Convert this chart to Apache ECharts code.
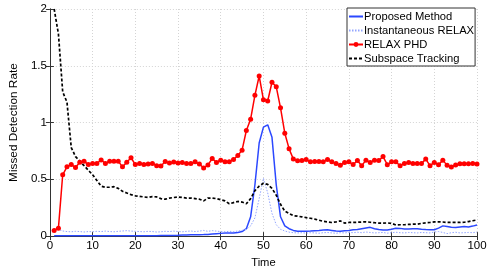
<!DOCTYPE html>
<html>
<head>
<meta charset="utf-8">
<script src="https://cdn.jsdelivr.net/npm/echarts@6/dist/echarts.min.js"></script>
<style>
html,body{margin:0;padding:0;background:#fff;}
#chart{width:491px;height:273px;}
</style>
</head>
<body>
<div id="chart"></div>
<script>
var seriesNames = ['Proposed Method', 'Instantaneous RELAX', 'RELAX PHD', 'Subspace Tracking'];
var xTicks = [0, 10, 20, 30, 40, 50, 60, 70, 80, 90, 100];
var yTicks = [0, 0.5, 1, 1.5, 2];
var timeSteps = [];
for (var i = 1; i <= 100; i++) timeSteps.push(i);

var proposed = [
  0.002,0.002,0.002,0.002,0.002,0.002,0.002,0.002,0.002,0.002,
  0.002,0.002,0.002,0.002,0.002,0.002,0.002,0.003,0.003,0.003,
  0.003,0.003,0.004,0.004,0.004,0.005,0.005,0.006,0.006,0.007,
  0.009,0.010,0.011,0.012,0.012,0.013,0.015,0.018,0.021,0.024,
  0.027,0.027,0.028,0.032,0.040,0.065,0.17,0.45,0.82,0.96,
  0.98,0.87,0.45,0.17,0.09,0.065,0.05,0.043,0.043,0.043,
  0.045,0.048,0.05,0.053,0.055,0.05,0.045,0.043,0.048,0.05,
  0.055,0.058,0.065,0.072,0.077,0.065,0.058,0.054,0.054,0.06,
  0.07,0.068,0.063,0.062,0.065,0.064,0.06,0.058,0.057,0.056,
  0.07,0.09,0.085,0.078,0.075,0.08,0.085,0.08,0.088,0.097
];
var instRelax = [
  0.05,0.06,0.045,0.04,0.038,0.042,0.04,0.036,0.04,0.038,
  0.042,0.04,0.044,0.04,0.038,0.042,0.045,0.048,0.044,0.042,
  0.04,0.038,0.042,0.04,0.036,0.038,0.042,0.04,0.044,0.04,
  0.038,0.042,0.045,0.04,0.044,0.05,0.042,0.048,0.044,0.04,
  0.038,0.042,0.04,0.044,0.05,0.06,0.09,0.16,0.33,0.51,
  0.38,0.2,0.1,0.06,0.045,0.035,0.03,0.028,0.03,0.026,
  0.03,0.028,0.025,0.03,0.032,0.028,0.025,0.03,0.028,0.032,
  0.03,0.034,0.03,0.036,0.032,0.028,0.03,0.032,0.026,0.03,
  0.034,0.03,0.028,0.032,0.03,0.028,0.032,0.03,0.028,0.036,
  0.04,0.032,0.022,0.03,0.034,0.028,0.03,0.032,0.03,0.036
];
var relaxPhd = [
  0.05,0.07,0.54,0.61,0.63,0.605,0.65,0.66,0.63,0.64,
  0.64,0.67,0.64,0.66,0.66,0.66,0.61,0.65,0.69,0.63,
  0.64,0.63,0.635,0.64,0.62,0.617,0.657,0.643,0.652,0.643,
  0.649,0.64,0.64,0.654,0.635,0.60,0.626,0.683,0.649,0.669,
  0.655,0.655,0.675,0.71,0.757,0.93,1.03,1.24,1.41,1.20,
  1.19,1.355,1.315,1.13,0.906,0.77,0.678,0.663,0.666,0.674,
  0.654,0.657,0.657,0.654,0.674,0.654,0.64,0.623,0.649,0.654,
  0.631,0.666,0.62,0.669,0.649,0.669,0.666,0.70,0.629,0.654,
  0.654,0.62,0.64,0.649,0.64,0.64,0.64,0.678,0.62,0.649,
  0.629,0.669,0.623,0.609,0.626,0.637,0.637,0.637,0.64,0.635
];
var subspace = [
  2.0,1.78,1.27,1.18,0.78,0.70,0.66,0.62,0.58,0.54,
  0.49,0.44,0.43,0.43,0.435,0.42,0.395,0.38,0.365,0.355,
  0.35,0.345,0.34,0.348,0.345,0.33,0.325,0.335,0.34,0.345,
  0.34,0.335,0.335,0.33,0.325,0.31,0.335,0.335,0.33,0.32,
  0.31,0.285,0.295,0.305,0.30,0.285,0.33,0.40,0.44,0.465,
  0.455,0.42,0.36,0.28,0.22,0.20,0.18,0.175,0.17,0.163,
  0.157,0.15,0.14,0.13,0.125,0.12,0.125,0.134,0.115,0.12,
  0.12,0.122,0.124,0.126,0.122,0.118,0.115,0.114,0.116,0.112,
  0.098,0.10,0.10,0.103,0.105,0.105,0.112,0.117,0.12,0.125,
  0.126,0.124,0.12,0.12,0.12,0.12,0.122,0.128,0.135,0.142
];

function pairs(vals) {
  return timeSteps.map(function (t, k) { return [t, vals[k]]; });
}

var FONT = '"Liberation Sans", Arial, Helvetica, sans-serif';
var axisColor = '#333333';
var hiddenMarker = { color: 'rgba(0,0,0,0)', opacity: 0, borderWidth: 0, borderColor: 'rgba(0,0,0,0)' };
var chart = echarts.init(document.getElementById('chart'), null, { renderer: 'canvas' });

var option = {
  animation: false,
  backgroundColor: '#ffffff',
  grid: { left: 43, right: 14, top: 9, bottom: 31, containLabel: false },
  legend: {
    orient: 'vertical',
    left: 347,
    top: 8,
    padding: [3, 1, 2, 1],
    itemGap: 3,
    itemWidth: 14,
    itemHeight: 6,
    backgroundColor: '#ffffff',
    borderColor: '#333333',
    borderWidth: 1,
    borderRadius: 0,
    textStyle: { fontFamily: FONT, fontSize: 11.2, color: '#000', padding: [0, 0, 0, -4], lineHeight: 11 },
    data: [
      { name: seriesNames[0], itemStyle: hiddenMarker },
      { name: seriesNames[1], itemStyle: hiddenMarker },
      { name: seriesNames[2] },
      { name: seriesNames[3], itemStyle: hiddenMarker }
    ]
  },
  xAxis: [{
    type: 'value', min: 0, max: 100, interval: 10,
    name: 'Time', nameLocation: 'middle', nameGap: 13,
    nameTextStyle: { fontFamily: FONT, fontSize: 11.2, color: '#000' },
    axisLine: { show: true, lineStyle: { color: axisColor, width: 1 } },
    axisTick: { show: true, inside: true, length: 4, lineStyle: { color: axisColor } },
    axisLabel: { fontFamily: FONT, fontSize: 11.5, color: '#000', margin: 4,
      formatter: function (v) { return xTicks.indexOf(v) >= 0 ? String(v) : ''; } },
    splitLine: { show: true, lineStyle: { color: '#d4d4d4', type: [1, 2], width: 1 } }
  }, {
    type: 'value', min: 0, max: 100, interval: 10, position: 'top',
    axisLine: { show: true, lineStyle: { color: axisColor, width: 1 } },
    axisTick: { show: true, inside: true, length: 4, lineStyle: { color: axisColor } },
    axisLabel: { show: false }, splitLine: { show: false }
  }],
  yAxis: [{
    type: 'value', min: 0, max: 2, interval: 0.5,
    name: 'Missed Detection Rate', nameLocation: 'middle', nameGap: 22,
    nameTextStyle: { fontFamily: FONT, fontSize: 11.8, color: '#000' },
    axisLine: { show: true, lineStyle: { color: axisColor, width: 1 } },
    axisTick: { show: true, inside: true, length: 4, lineStyle: { color: axisColor } },
    axisLabel: { fontFamily: FONT, fontSize: 11.5, color: '#000', margin: 3,
      formatter: function (v) { return yTicks.indexOf(v) >= 0 ? String(v) : ''; } },
    splitLine: { show: true, lineStyle: { color: '#d4d4d4', type: [1, 2], width: 1 } }
  }, {
    type: 'value', min: 0, max: 2, interval: 0.5, position: 'right',
    axisLine: { show: true, lineStyle: { color: axisColor, width: 1 } },
    axisTick: { show: true, inside: true, length: 4, lineStyle: { color: axisColor } },
    axisLabel: { show: false }, splitLine: { show: false }
  }],
  series: [{
    name: seriesNames[0], type: 'line', data: pairs(proposed),
    symbol: 'none', showSymbol: false, clip: true,
    lineStyle: { color: '#2b48ff', width: 1.5 },
    itemStyle: { color: '#2b48ff' }
  }, {
    name: seriesNames[1], type: 'line', data: pairs(instRelax),
    symbol: 'none', showSymbol: false, clip: true,
    lineStyle: { color: '#93a6ff', width: 1, type: [1.5, 1.5] },
    itemStyle: { color: '#93a6ff' }
  }, {
    name: seriesNames[2], type: 'line', data: pairs(relaxPhd),
    symbol: 'circle', symbolSize: 5, showSymbol: true, clip: true,
    lineStyle: { color: '#ff0000', width: 1.5 },
    itemStyle: { color: '#ff0000' }
  }, {
    name: seriesNames[3], type: 'line', data: pairs(subspace),
    symbol: 'none', showSymbol: false, clip: true,
    lineStyle: { color: '#000000', width: 1.7, type: [3, 2] },
    itemStyle: { color: '#000000' }
  }]
};
chart.setOption(option);
</script>
</body>
</html>
